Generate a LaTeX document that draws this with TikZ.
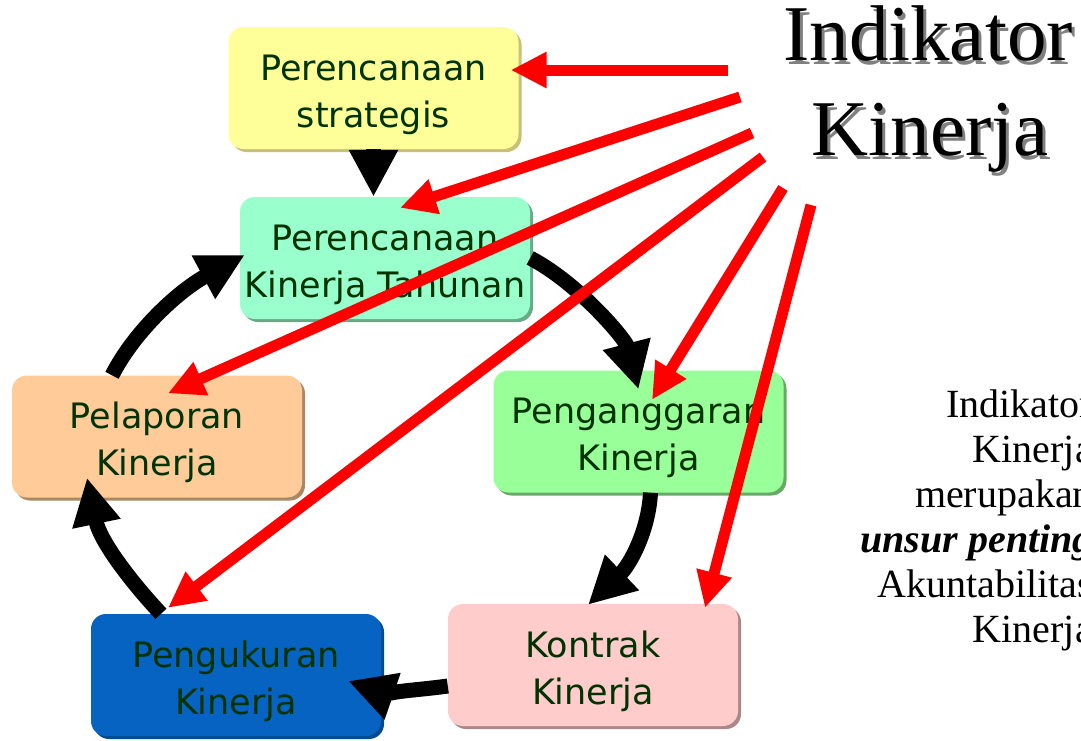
\documentclass[tikz,border=0pt]{standalone}
\usepackage{fontspec}
\setmainfont{Liberation Serif}
\newfontfamily\boxfont{DejaVu Sans}
\usetikzlibrary{arrows.meta,shadows,calc}

\definecolor{txtgreen}{HTML}{003300}
\definecolor{cYellow}{HTML}{FFFF99}
\definecolor{cAqua}{HTML}{99FFCC}
\definecolor{cPeach}{HTML}{FFCC99}
\definecolor{cGreen}{HTML}{99FF99}
\definecolor{cBlue}{HTML}{0663C1}
\definecolor{cPink}{HTML}{FFCCCC}
\definecolor{sYellow}{HTML}{C8C078}
\definecolor{sAqua}{HTML}{66AA88}
\definecolor{sPeach}{HTML}{AA8866}
\definecolor{sGreen}{HTML}{66AA66}
\definecolor{sBlue}{HTML}{034A8F}
\definecolor{sPink}{HTML}{AA8888}
\definecolor{arrowred}{HTML}{FF0000}

% tall first line so the two text lines sit a little lower in each box
\newcommand{\stagestrut}{\rule{0pt}{39pt}}

\begin{document}
\begin{tikzpicture}[x=1pt,y=-1pt,
  stage/.style 2 args={rounded corners=15pt, fill=#1,
    minimum width=290pt, minimum height=122pt, inner sep=0pt,
    align=center, text=txtgreen,
    font=\boxfont\fontsize{35}{47}\selectfont,
    general shadow={fill=#2, shadow xshift=3pt, shadow yshift=-3pt}},
  cycle/.style={draw=black, line width=15pt,
    -{Triangle[width=46pt,length=47pt]}},
  pointer/.style={draw=arrowred, line width=11pt,
    -{Triangle[width=34pt,length=36pt]}},
  headline/.style={font=\fontsize{79}{90}\selectfont, anchor=base, inner sep=0pt},
  note/.style={font=\fontsize{40}{45}\selectfont, align=right, inner sep=0pt}]

\useasboundingbox (0,0) rectangle (1081,740);
\fill[white] (0,0) rectangle (1081,740);

% stages of the performance cycle
\node[stage={cYellow}{sYellow}] (strat)   at (373.5,88)  {\stagestrut Perencanaan\\strategis};
\node[stage={cAqua}{sAqua}]     (tahunan) at (385,258)   {\stagestrut Perencanaan\\Kinerja Tahunan};
\node[stage={cPeach}{sPeach}]   (lapor)   at (157,436.5) {\stagestrut Pelaporan\\Kinerja};
\node[stage={cGreen}{sGreen}]   (anggar)  at (638.5,431.5) {\stagestrut Penganggaran\\Kinerja};
\node[stage={cBlue}{sBlue}]     (ukur)    at (236,675)   {\stagestrut Pengukuran\\Kinerja};
\node[stage={cPink}{sPink}]     (kontrak) at (593,665)   {\stagestrut Kontrak\\Kinerja};

% heading with soft shadow
\node[headline, text=black!50] at (931,64)  {Indikator};
\node[headline, text=black!50] at (933,159) {Kinerja};
\node[headline] (title1) at (928,60)  {Indikator};
\node[headline] (title2) at (930,155) {Kinerja};

% side note
\node[note, anchor=north east] (side) at (1093,389.5)
  {Indikator\\Kinerja\\merupakan\\\textbf{\textit{unsur penting}}\\Akuntabilitas\\Kinerja};

% cycle arrows
\draw[cycle] (strat.south) -- (strat.south |- tahunan.north);
\draw[cycle] (tahunan.east) .. controls +(48,25) and +(-13,-50) .. ($(anggar.north)+(0,19)$);
\draw[cycle] ($(anggar.south)+(12,0)$) .. controls +(-2,38) and +(42,-40) .. ($(kontrak.north)+(-5,1)$);
\draw[cycle] ($(kontrak.west)+(0,21)$) .. controls +(-28,4) and +(32,11) .. ($(ukur.east)+(-33,6)$);
\draw[cycle] ($(ukur.north)+(-75,0)$) .. controls +(-31,-33) and +(13,63) .. ($(lapor.south)+(-70,-20)$);
\draw[cycle] ($(lapor.north)+(-45,0)$) .. controls +(23,-45) and +(-65,35) .. ($(tahunan.west)+(5,-3)$);

% pointers from the heading
\coordinate (k1) at (728,70);
\coordinate (k2) at (740,97);
\coordinate (k3) at (752,133);
\coordinate (k4) at (763,157);
\coordinate (k5) at (783,188);
\coordinate (k6) at (811,205);
\draw[pointer] (k1) -- ($(strat.east)+(-8,-18)$);
\draw[pointer] (k2) -- ($(tahunan.north)+(15,11)$);
\draw[pointer] (k3) -- ($(lapor.north)+(11,18)$);
\draw[pointer] (k4) -- ($(ukur.north)+(-68,-6)$);
\draw[pointer] (k5) -- ($(anggar.north)+(13.5,29.5)$);
\draw[pointer] (k6) -- ($(kontrak.north)+(112,4)$);
\end{tikzpicture}
\end{document}
